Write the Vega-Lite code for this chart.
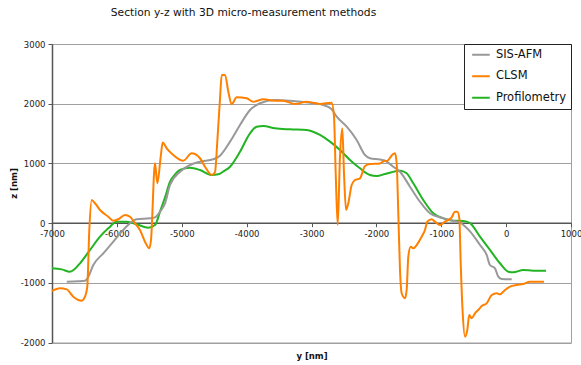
{
  "$schema": "https://vega.github.io/schema/vega-lite/v6.json",
  "width": 519,
  "height": 298.5,
  "autosize": {"type": "none"},
  "padding": {"left": 52, "top": 44, "right": 10, "bottom": 22.5},
  "background": "white",
  "title": {
    "text": "Section y-z with 3D micro-measurement methods",
    "font": "DejaVu Sans",
    "fontSize": 10.7,
    "fontWeight": "normal",
    "color": "#111",
    "anchor": "middle",
    "dx": -68,
    "baseline": "alphabetic",
    "offset": 13
  },
  "config": {
    "view": {"stroke": "#a0a0a0", "strokeWidth": 1},
    "font": "DejaVu Sans"
  },
  "datasets": {
    "profiles": [
      {"y": -7000, "z": -757, "method": "Profilometry"},
      {"y": -6850, "z": -775, "method": "Profilometry"},
      {"y": -6723, "z": -814, "method": "Profilometry"},
      {"y": -6650, "z": -770, "method": "Profilometry"},
      {"y": -6568, "z": -673, "method": "Profilometry"},
      {"y": -6414, "z": -450, "method": "Profilometry"},
      {"y": -6260, "z": -228, "method": "Profilometry"},
      {"y": -6132, "z": -88, "method": "Profilometry"},
      {"y": -6003, "z": 24, "method": "Profilometry"},
      {"y": -5849, "z": 24, "method": "Profilometry"},
      {"y": -5694, "z": -20, "method": "Profilometry"},
      {"y": -5516, "z": -77, "method": "Profilometry"},
      {"y": -5412, "z": -32, "method": "Profilometry"},
      {"y": -5335, "z": 191, "method": "Profilometry"},
      {"y": -5258, "z": 430, "method": "Profilometry"},
      {"y": -5181, "z": 693, "method": "Profilometry"},
      {"y": -5100, "z": 820, "method": "Profilometry"},
      {"y": -5027, "z": 889, "method": "Profilometry"},
      {"y": -4873, "z": 928, "method": "Profilometry"},
      {"y": -4719, "z": 889, "method": "Profilometry"},
      {"y": -4538, "z": 806, "method": "Profilometry"},
      {"y": -4437, "z": 817, "method": "Profilometry"},
      {"y": -4350, "z": 870, "method": "Profilometry"},
      {"y": -4256, "z": 945, "method": "Profilometry"},
      {"y": -4102, "z": 1196, "method": "Profilometry"},
      {"y": -3948, "z": 1504, "method": "Profilometry"},
      {"y": -3845, "z": 1615, "method": "Profilometry"},
      {"y": -3743, "z": 1626, "method": "Profilometry"},
      {"y": -3563, "z": 1588, "method": "Profilometry"},
      {"y": -3332, "z": 1571, "method": "Profilometry"},
      {"y": -3074, "z": 1560, "method": "Profilometry"},
      {"y": -2869, "z": 1476, "method": "Profilometry"},
      {"y": -2715, "z": 1364, "method": "Profilometry"},
      {"y": -2561, "z": 1225, "method": "Profilometry"},
      {"y": -2407, "z": 1057, "method": "Profilometry"},
      {"y": -2253, "z": 918, "method": "Profilometry"},
      {"y": -2099, "z": 806, "method": "Profilometry"},
      {"y": -1995, "z": 789, "method": "Profilometry"},
      {"y": -1867, "z": 822, "method": "Profilometry"},
      {"y": -1636, "z": 878, "method": "Profilometry"},
      {"y": -1533, "z": 834, "method": "Profilometry"},
      {"y": -1431, "z": 667, "method": "Profilometry"},
      {"y": -1277, "z": 387, "method": "Profilometry"},
      {"y": -1123, "z": 164, "method": "Profilometry"},
      {"y": -969, "z": 80, "method": "Profilometry"},
      {"y": -814, "z": 40, "method": "Profilometry"},
      {"y": -660, "z": 35, "method": "Profilometry"},
      {"y": -557, "z": 0, "method": "Profilometry"},
      {"y": -403, "z": -228, "method": "Profilometry"},
      {"y": -249, "z": -450, "method": "Profilometry"},
      {"y": -95, "z": -673, "method": "Profilometry"},
      {"y": 34, "z": -814, "method": "Profilometry"},
      {"y": 111, "z": -824, "method": "Profilometry"},
      {"y": 265, "z": -786, "method": "Profilometry"},
      {"y": 419, "z": -797, "method": "Profilometry"},
      {"y": 615, "z": -797, "method": "Profilometry"},

      {"y": -6773, "z": -981, "method": "SIS-AFM"},
      {"y": -6600, "z": -975, "method": "SIS-AFM"},
      {"y": -6491, "z": -965, "method": "SIS-AFM"},
      {"y": -6440, "z": -898, "method": "SIS-AFM"},
      {"y": -6363, "z": -702, "method": "SIS-AFM"},
      {"y": -6209, "z": -506, "method": "SIS-AFM"},
      {"y": -6055, "z": -311, "method": "SIS-AFM"},
      {"y": -5926, "z": -144, "method": "SIS-AFM"},
      {"y": -5798, "z": -3, "method": "SIS-AFM"},
      {"y": -5694, "z": 64, "method": "SIS-AFM"},
      {"y": -5489, "z": 80, "method": "SIS-AFM"},
      {"y": -5412, "z": 97, "method": "SIS-AFM"},
      {"y": -5335, "z": 191, "method": "SIS-AFM"},
      {"y": -5258, "z": 330, "method": "SIS-AFM"},
      {"y": -5181, "z": 638, "method": "SIS-AFM"},
      {"y": -5027, "z": 861, "method": "SIS-AFM"},
      {"y": -4873, "z": 973, "method": "SIS-AFM"},
      {"y": -4719, "z": 1029, "method": "SIS-AFM"},
      {"y": -4514, "z": 1069, "method": "SIS-AFM"},
      {"y": -4410, "z": 1130, "method": "SIS-AFM"},
      {"y": -4256, "z": 1364, "method": "SIS-AFM"},
      {"y": -4102, "z": 1643, "method": "SIS-AFM"},
      {"y": -3948, "z": 1895, "method": "SIS-AFM"},
      {"y": -3794, "z": 2007, "method": "SIS-AFM"},
      {"y": -3563, "z": 2062, "method": "SIS-AFM"},
      {"y": -3332, "z": 2050, "method": "SIS-AFM"},
      {"y": -3023, "z": 2017, "method": "SIS-AFM"},
      {"y": -2818, "z": 1978, "method": "SIS-AFM"},
      {"y": -2689, "z": 1906, "method": "SIS-AFM"},
      {"y": -2611, "z": 1782, "method": "SIS-AFM"},
      {"y": -2457, "z": 1615, "method": "SIS-AFM"},
      {"y": -2304, "z": 1392, "method": "SIS-AFM"},
      {"y": -2175, "z": 1141, "method": "SIS-AFM"},
      {"y": -2099, "z": 1086, "method": "SIS-AFM"},
      {"y": -1944, "z": 1065, "method": "SIS-AFM"},
      {"y": -1867, "z": 1045, "method": "SIS-AFM"},
      {"y": -1739, "z": 945, "method": "SIS-AFM"},
      {"y": -1636, "z": 861, "method": "SIS-AFM"},
      {"y": -1482, "z": 610, "method": "SIS-AFM"},
      {"y": -1328, "z": 358, "method": "SIS-AFM"},
      {"y": -1174, "z": 164, "method": "SIS-AFM"},
      {"y": -1020, "z": 97, "method": "SIS-AFM"},
      {"y": -865, "z": 52, "method": "SIS-AFM"},
      {"y": -711, "z": 7, "method": "SIS-AFM"},
      {"y": -557, "z": -140, "method": "SIS-AFM"},
      {"y": -403, "z": -367, "method": "SIS-AFM"},
      {"y": -300, "z": -534, "method": "SIS-AFM"},
      {"y": -249, "z": -702, "method": "SIS-AFM"},
      {"y": -172, "z": -757, "method": "SIS-AFM"},
      {"y": -121, "z": -898, "method": "SIS-AFM"},
      {"y": -69, "z": -936, "method": "SIS-AFM"},
      {"y": 86, "z": -941, "method": "SIS-AFM"},

      {"y": -7000, "z": -1137, "method": "CLSM"},
      {"y": -6877, "z": -1093, "method": "CLSM"},
      {"y": -6773, "z": -1110, "method": "CLSM"},
      {"y": -6672, "z": -1233, "method": "CLSM"},
      {"y": -6542, "z": -1300, "method": "CLSM"},
      {"y": -6491, "z": -1233, "method": "CLSM"},
      {"y": -6456, "z": -1065, "method": "CLSM"},
      {"y": -6425, "z": -116, "method": "CLSM"},
      {"y": -6388, "z": 387, "method": "CLSM"},
      {"y": -6337, "z": 332, "method": "CLSM"},
      {"y": -6260, "z": 220, "method": "CLSM"},
      {"y": -6132, "z": 107, "method": "CLSM"},
      {"y": -6055, "z": 40, "method": "CLSM"},
      {"y": -5978, "z": 64, "method": "CLSM"},
      {"y": -5875, "z": 136, "method": "CLSM"},
      {"y": -5798, "z": 107, "method": "CLSM"},
      {"y": -5721, "z": -3, "method": "CLSM"},
      {"y": -5644, "z": -116, "method": "CLSM"},
      {"y": -5567, "z": -311, "method": "CLSM"},
      {"y": -5500, "z": -422, "method": "CLSM"},
      {"y": -5474, "z": -283, "method": "CLSM"},
      {"y": -5412, "z": 1002, "method": "CLSM"},
      {"y": -5377, "z": 667, "method": "CLSM"},
      {"y": -5324, "z": 1113, "method": "CLSM"},
      {"y": -5294, "z": 1350, "method": "CLSM"},
      {"y": -5232, "z": 1253, "method": "CLSM"},
      {"y": -5130, "z": 1141, "method": "CLSM"},
      {"y": -4976, "z": 1045, "method": "CLSM"},
      {"y": -4847, "z": 1169, "method": "CLSM"},
      {"y": -4719, "z": 1086, "method": "CLSM"},
      {"y": -4642, "z": 945, "method": "CLSM"},
      {"y": -4538, "z": 806, "method": "CLSM"},
      {"y": -4488, "z": 851, "method": "CLSM"},
      {"y": -4452, "z": 1364, "method": "CLSM"},
      {"y": -4410, "z": 2090, "method": "CLSM"},
      {"y": -4384, "z": 2481, "method": "CLSM"},
      {"y": -4333, "z": 2481, "method": "CLSM"},
      {"y": -4282, "z": 2201, "method": "CLSM"},
      {"y": -4230, "z": 1990, "method": "CLSM"},
      {"y": -4153, "z": 2107, "method": "CLSM"},
      {"y": -3999, "z": 2090, "method": "CLSM"},
      {"y": -3897, "z": 2033, "method": "CLSM"},
      {"y": -3743, "z": 2074, "method": "CLSM"},
      {"y": -3563, "z": 2050, "method": "CLSM"},
      {"y": -3435, "z": 2050, "method": "CLSM"},
      {"y": -3254, "z": 1995, "method": "CLSM"},
      {"y": -3074, "z": 2033, "method": "CLSM"},
      {"y": -2972, "z": 2017, "method": "CLSM"},
      {"y": -2869, "z": 1995, "method": "CLSM"},
      {"y": -2689, "z": 2017, "method": "CLSM"},
      {"y": -2653, "z": 1782, "method": "CLSM"},
      {"y": -2627, "z": 834, "method": "CLSM"},
      {"y": -2596, "z": -30, "method": "CLSM"},
      {"y": -2561, "z": 1113, "method": "CLSM"},
      {"y": -2525, "z": 1588, "method": "CLSM"},
      {"y": -2499, "z": 834, "method": "CLSM"},
      {"y": -2468, "z": 220, "method": "CLSM"},
      {"y": -2433, "z": 332, "method": "CLSM"},
      {"y": -2381, "z": 638, "method": "CLSM"},
      {"y": -2330, "z": 722, "method": "CLSM"},
      {"y": -2253, "z": 750, "method": "CLSM"},
      {"y": -2175, "z": 957, "method": "CLSM"},
      {"y": -2099, "z": 990, "method": "CLSM"},
      {"y": -1944, "z": 1000, "method": "CLSM"},
      {"y": -1867, "z": 1045, "method": "CLSM"},
      {"y": -1841, "z": 1040, "method": "CLSM"},
      {"y": -1739, "z": 1158, "method": "CLSM"},
      {"y": -1713, "z": 1169, "method": "CLSM"},
      {"y": -1687, "z": 1002, "method": "CLSM"},
      {"y": -1662, "z": 164, "method": "CLSM"},
      {"y": -1636, "z": -786, "method": "CLSM"},
      {"y": -1610, "z": -1176, "method": "CLSM"},
      {"y": -1559, "z": -1260, "method": "CLSM"},
      {"y": -1533, "z": -1120, "method": "CLSM"},
      {"y": -1508, "z": -562, "method": "CLSM"},
      {"y": -1471, "z": -395, "method": "CLSM"},
      {"y": -1431, "z": -422, "method": "CLSM"},
      {"y": -1378, "z": -367, "method": "CLSM"},
      {"y": -1302, "z": -228, "method": "CLSM"},
      {"y": -1251, "z": -116, "method": "CLSM"},
      {"y": -1215, "z": 24, "method": "CLSM"},
      {"y": -1147, "z": 64, "method": "CLSM"},
      {"y": -1097, "z": 24, "method": "CLSM"},
      {"y": -1020, "z": -32, "method": "CLSM"},
      {"y": -942, "z": 24, "method": "CLSM"},
      {"y": -839, "z": 97, "method": "CLSM"},
      {"y": -788, "z": 191, "method": "CLSM"},
      {"y": -752, "z": 191, "method": "CLSM"},
      {"y": -721, "z": 80, "method": "CLSM"},
      {"y": -700, "z": -673, "method": "CLSM"},
      {"y": -669, "z": -1511, "method": "CLSM"},
      {"y": -634, "z": -1903, "method": "CLSM"},
      {"y": -599, "z": -1791, "method": "CLSM"},
      {"y": -568, "z": -1539, "method": "CLSM"},
      {"y": -531, "z": -1595, "method": "CLSM"},
      {"y": -480, "z": -1511, "method": "CLSM"},
      {"y": -429, "z": -1456, "method": "CLSM"},
      {"y": -377, "z": -1389, "method": "CLSM"},
      {"y": -300, "z": -1344, "method": "CLSM"},
      {"y": -222, "z": -1204, "method": "CLSM"},
      {"y": -146, "z": -1176, "method": "CLSM"},
      {"y": -95, "z": -1193, "method": "CLSM"},
      {"y": -17, "z": -1120, "method": "CLSM"},
      {"y": 60, "z": -1065, "method": "CLSM"},
      {"y": 163, "z": -1037, "method": "CLSM"},
      {"y": 265, "z": -1020, "method": "CLSM"},
      {"y": 368, "z": -981, "method": "CLSM"},
      {"y": 584, "z": -981, "method": "CLSM"}
    ]
  },
  "data": {"name": "profiles"},
  "mark": {"type": "line", "strokeWidth": 2, "interpolate": "monotone"},
  "encoding": {
    "x": {
      "field": "y",
      "type": "quantitative",
      "sort": null,
      "scale": {"domain": [-7000, 1000], "nice": false, "zero": false},
      "axis": {
        "title": "y [nm]",
        "titleFont": "DejaVu Sans",
        "titleFontSize": 8.5,
        "titleFontWeight": "bold",
        "titleColor": "#111",
        "titleBaseline": "alphabetic",
        "titleY": 136,
        "values": [-7000, -6000, -5000, -4000, -3000, -2000, -1000, 0, 1000],
        "labelExpr": "'' + datum.value",
        "offset": -119.8,
        "grid": false,
        "domainColor": "#555555",
        "domainWidth": 1.5,
        "tickColor": "#555555",
        "tickSize": 4,
        "labelFontSize": 8.5,
        "labelColor": "#222",
        "labelPadding": 3,
        "labelFlush": false,
        "labelOverlap": false,
        "labelBound": false
      }
    },
    "y": {
      "field": "z",
      "type": "quantitative",
      "scale": {"domain": [-2000, 3000], "nice": false, "zero": false},
      "axis": {
        "title": "z [nm]",
        "titleFont": "DejaVu Sans",
        "titleFontSize": 8.5,
        "titleFontWeight": "bold",
        "titleColor": "#111",
        "titleBaseline": "alphabetic",
        "titleAngle": -90,
        "titleX": -36,
        "titleY": 139,
        "titleAlign": "center",
        "values": [-2000, -1000, 0, 1000, 2000, 3000],
        "labelExpr": "'' + datum.value",
        "grid": true,
        "gridColor": "#a0a0a0",
        "gridWidth": 1,
        "domainColor": "#555555",
        "domainWidth": 1.5,
        "tickColor": "#555555",
        "tickSize": 4,
        "labelFontSize": 8.5,
        "labelColor": "#222",
        "labelPadding": 3,
        "labelFlush": false,
        "labelOverlap": false,
        "labelBound": false
      }
    },
    "color": {
      "field": "method",
      "type": "nominal",
      "scale": {
        "domain": ["SIS-AFM", "CLSM", "Profilometry"],
        "range": ["#999999", "#FF8000", "#22B422"]
      },
      "legend": {
        "title": null,
        "orient": "top-right",
        "offset": 0,
        "fillColor": "white",
        "strokeColor": "#222222",
        "padding": 5,
        "labelFont": "DejaVu Sans",
        "labelFontSize": 11.5,
        "labelColor": "#111",
        "rowPadding": 8.5,
        "symbolType": "M-0.87,0H5",
        "symbolSize": 36,
        "symbolStrokeWidth": 2,
        "labelOffset": 15.4
      }
    }
  }
}
